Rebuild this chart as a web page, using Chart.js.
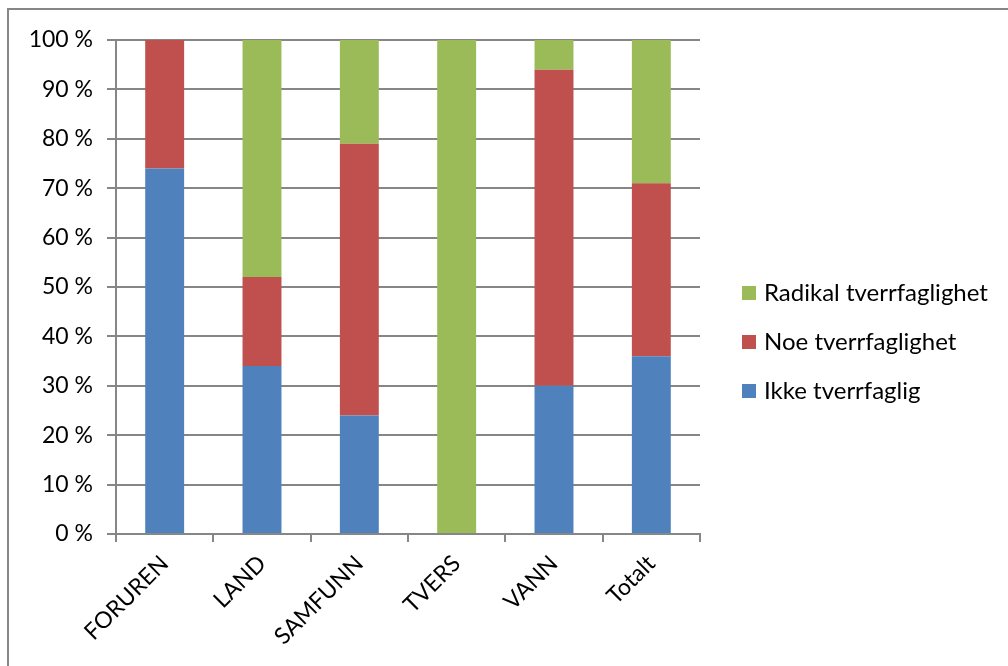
<!DOCTYPE html>
<html>
<head>
  <meta charset="utf-8" />
  <title>Tverrfaglighet</title>
  <style>
    html, body { margin: 0; padding: 0; background: #fff; }
    #wrap { width: 1008px; height: 666px; position: relative; }
  </style>
</head>
<body>
  <div id="wrap"><canvas id="stage"></canvas></div>

  <script src="https://cdn.jsdelivr.net/npm/chart.js@4.4.0/dist/chart.umd.min.js"></script>
  <script>
    // kategorier og andeler (prosent)
    const categories = ['FORUREN', 'LAND', 'SAMFUNN', 'TVERS', 'VANN', 'Totalt'];
    const ikke = [74, 34, 24, 0, 30, 36];
    const noe = [26, 18, 55, 0, 64, 35];
    const radikal = [0, 48, 21, 100, 6, 29];
    const yTicks = [0, 10, 20, 30, 40, 50, 60, 70, 80, 90, 100];

    const gray = '#868686';
    const font = 'Lato, Calibri, "Liberation Sans", sans-serif';

    // ramme + egen forklaring til høyre
    const frameAndLegend = {
      id: 'frameAndLegend',
      afterDraw(chart) {
        const ctx = chart.ctx;
        ctx.save();
        ctx.strokeStyle = gray;
        ctx.lineWidth = 2;
        ctx.beginPath();
        ctx.moveTo(8, 666);
        ctx.lineTo(8, 9);
        ctx.lineTo(1008, 9);
        ctx.stroke();

        const items = chart.data.datasets.slice().reverse();
        ctx.font = '24px ' + font;
        ctx.textBaseline = 'middle';
        items.forEach((ds, i) => {
          const y = 293 + i * 49;
          ctx.fillStyle = ds.backgroundColor;
          ctx.fillRect(742, y - 7, 14, 14);
          ctx.fillStyle = '#000';
          ctx.fillText(ds.label, 764, y);
        });
        ctx.restore();
      }
    };

    new Chart(document.getElementById('stage'), {
      type: 'bar',
      data: {
        labels: categories,
        datasets: [
          { label: 'Ikke tverrfaglig', data: ikke, backgroundColor: '#4F81BD' },
          { label: 'Noe tverrfaglighet', data: noe, backgroundColor: '#C0504D' },
          { label: 'Radikal tverrfaglighet', data: radikal, backgroundColor: '#9BBB59' }
        ]
      },
      options: {
        responsive: true,
        maintainAspectRatio: false,
        animation: false,
        categoryPercentage: 1,
        barPercentage: 0.4,
        layout: { padding: { top: 40, right: 308, left: 0, bottom: 0 } },
        plugins: {
          legend: { display: false },
          tooltip: { enabled: false }
        },
        scales: {
          x: {
            stacked: true,
            afterFit: s => { s.height = 132; },
            grid: { drawOnChartArea: false, drawTicks: true, tickLength: 8, color: gray, lineWidth: 2, offset: true },
            border: { color: gray, width: 2 },
            ticks: { color: '#000', font: { family: font, size: 23 }, maxRotation: 45, minRotation: 45, padding: 8 }
          },
          y: {
            stacked: true,
            min: 0,
            max: 100,
            afterFit: s => { s.width = 116; },
            afterBuildTicks: s => { s.ticks = yTicks.map(v => ({ value: v })); },
            grid: { color: gray, lineWidth: 2, tickLength: 9 },
            border: { color: gray, width: 2 },
            ticks: { color: '#000', font: { family: font, size: 23 }, padding: 14, callback: v => v + ' %' }
          }
        }
      },
      plugins: [frameAndLegend]
    });
  </script>
</body>
</html>
